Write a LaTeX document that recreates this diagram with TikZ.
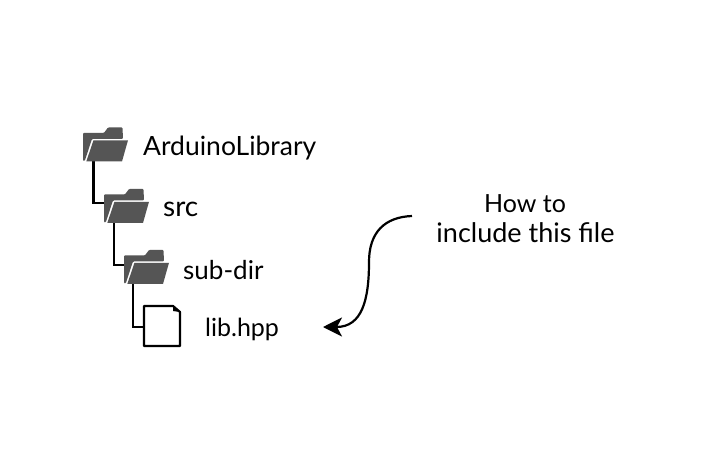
\documentclass[tikz,border=0pt]{standalone}
\usepackage{fontspec}
\setmainfont{Lato}
\usetikzlibrary{arrows.meta}
\definecolor{folder}{HTML}{555555}
\tikzset{
  x=1pt,y=-1pt,
  label/.style={inner sep=0pt,anchor=base west,font=\fontsize{#1}{30}\selectfont,text=black},
  label/.default=25,
  foldbox/.style={minimum width=45pt,minimum height=34.5pt,inner sep=0pt,outer sep=0pt},
  filebox/.style={minimum width=36pt,minimum height=40pt,inner sep=0pt,outer sep=0pt},
  tree/.style={line width=2.2pt,black,line join=miter},
  pics/folderglyph/.style={code={
    \fill[folder,rounded corners=1pt] (0,6) -- (21,6) -- (25,0.5) -- (39.5,0.5) -- (40,12) -- (9,12) -- (1.7,34) -- (0,34) -- cycle;
    \fill[folder] (10.5,13.3) -- (45,13.3) -- (39,34.5) -- (3.3,34.5) -- cycle;
  }},
}
\begin{document}
\begin{tikzpicture}
\useasboundingbox (0,0) rectangle (720,471);
\fill[white] (0,0) rectangle (720,471);
\node[foldbox] (f1) at (105.5,144.2) {};
\node[foldbox] (f2) at (126.5,205.7) {};
\node[foldbox] (f3) at (146.5,266.7) {};
\node[filebox] (file) at (162,326) {};
\draw[tree] ([xshift=-12pt]f1.south) |- ([yshift=2.7pt]f2.west);
\draw[tree] ([xshift=-12.7pt]f2.south) |- ([yshift=1.7pt]f3.west);
\draw[tree] ([xshift=-13.5pt]f3.south) |- ([yshift=-1pt]file.west);
\pic at (f1.north west) {folderglyph};
\pic at (f2.north west) {folderglyph};
\pic at (f3.north west) {folderglyph};
\draw[line width=2.2pt,line join=round] (file.north west) -- ([xshift=-7pt]file.north east) -- ([yshift=-6pt]file.north east) -- (file.south east) -- (file.south west) -- cycle;
\fill ([xshift=-7pt]file.north east) -- ([yshift=-6pt]file.north east) -- ([xshift=-7pt,yshift=-5pt]file.north east) -- cycle;
\node[label=26.5] (t1) at (143,155) {ArduinoLibrary};
\node[label=28] (t2) at (163,216) {src};
\node[label=26] (t3) at (183,279) {sub-dir};
\node[label=25] (t4) at (205,336) {lib.hpp};
\node[label=25,anchor=base] (how) at (525,212) {How to};
\node[label=27,anchor=base] (how2) at (525.5,242) {include this file};
\coordinate (s) at (412,216);
\coordinate (e) at (323,327);
\draw[line width=2.2pt,-{Stealth[length=19pt,width=19pt,inset=5pt]}] (s) .. controls (385,217) and (369,232) .. (369,262) .. controls (369,300) and (362,327) .. (e);
\end{tikzpicture}
\end{document}
